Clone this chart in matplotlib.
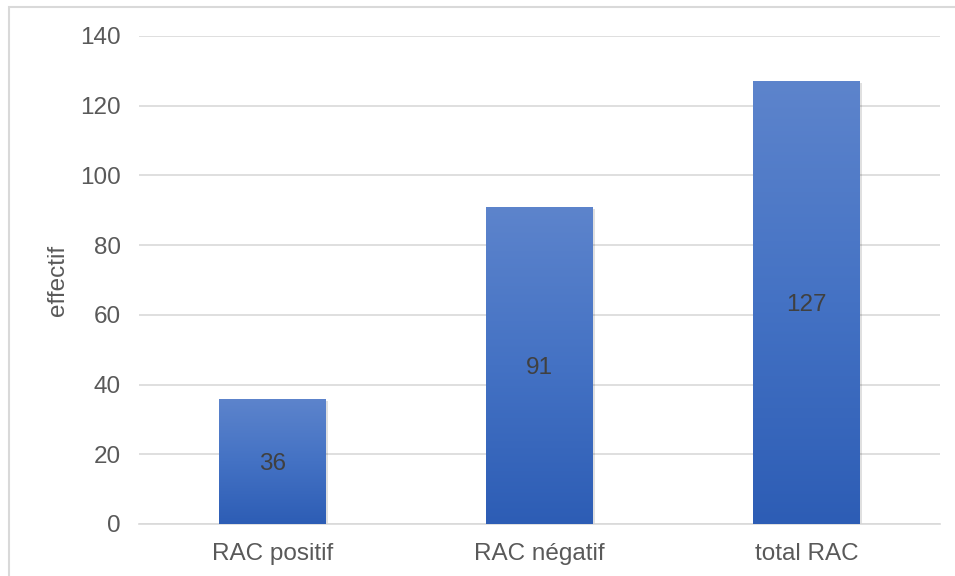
import matplotlib
matplotlib.use("Agg")
import matplotlib.pyplot as plt
import numpy as np
from matplotlib import patheffects
from matplotlib.colors import LinearSegmentedColormap
from matplotlib.patches import Rectangle

plt.rcParams["font.family"] = ["Liberation Sans", "DejaVu Sans"]

categories = ["RAC positif", "RAC négatif", "total RAC"]
effectifs = [36, 91, 127]
y_ticks = [0, 20, 40, 60, 80, 100, 120, 140]

TEXT = "#595959"
GRID = "#d9d9d9"
bar_cmap = LinearSegmentedColormap.from_list("bar", ["#2d5db5", "#4472c4", "#5d84cc"])

fig = plt.figure(figsize=(9.55, 5.76), dpi=100)
ax = fig.add_axes([139 / 955, 1 - 524 / 576, 801 / 955, 488 / 576])

x = np.arange(len(categories))
width = 0.4
bars = ax.bar(x, effectifs, width=width, color="#4472c4", zorder=2)

# gradient fill + soft shadow on each bar
grad = np.linspace(0, 1, 256).reshape(-1, 1)
for rect in bars:
    rect.set_path_effects([
        patheffects.SimplePatchShadow(offset=(1.5, -1.5), shadow_rgbFace="#000000", alpha=0.12),
        patheffects.Normal(),
    ])
    x0, h = rect.get_x(), rect.get_height()
    im = ax.imshow(grad, cmap=bar_cmap, origin="lower", aspect="auto",
                   extent=(x0, x0 + width, 0, h), zorder=3)
    im.set_clip_path(rect)

for xi, v in zip(x, effectifs):
    ax.text(xi, v / 2, str(v), ha="center", va="center_baseline", fontsize=17.5,
            color="#404040", zorder=4)

ax.set_xlim(-0.5, 2.5)
ax.set_ylim(0, 140)
ax.set_yticks(y_ticks)
ax.set_xticks(x)
ax.set_xticklabels(categories)
ax.tick_params(axis="both", length=0, labelsize=17.5, labelcolor=TEXT)
ax.tick_params(axis="y", pad=13)
ax.tick_params(axis="x", pad=14)
ax.grid(axis="y", color=GRID, linewidth=1.2, zorder=0)
ax.set_axisbelow(True)
for side in ["top", "right", "left"]:
    ax.spines[side].set_visible(False)
ax.spines["bottom"].set_color(GRID)
ax.spines["bottom"].set_linewidth(1.2)

ax.set_ylabel("effectif", fontsize=17.5, color=TEXT)
ax.yaxis.set_label_coords(-0.087, 0.5)

# chart frame (top and left edges)
fig.patches.append(Rectangle((9 / 955, -0.1), 1.1, 1 - 7 / 576 + 0.1,
                             transform=fig.transFigure, fill=False,
                             edgecolor="#d9d9d9", linewidth=1.5))

fig.savefig("out.png", dpi=100)
